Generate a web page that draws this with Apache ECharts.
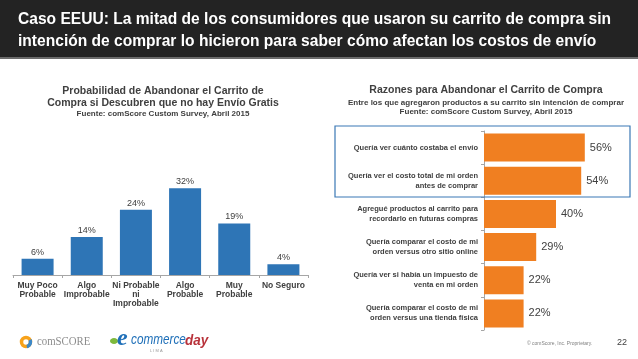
<!DOCTYPE html>
<html><head><meta charset="utf-8">
<script src="https://cdn.jsdelivr.net/npm/echarts@6/dist/echarts.min.js"></script>
<style>html,body{margin:0;padding:0;background:#fff}#c{width:638px;height:359px}</style>
</head><body><div id="c"></div>
<script>
const leftCategories = ['Muy Poco\nProbable','Algo\nImprobable','Ni Probable\nni\nImprobable','Algo\nProbable','Muy\nProbable','No Seguro'];
const leftValues = [6,14,24,32,19,4];
const rightCategories = ['Quería ver cuánto costaba el envío','Quería ver el costo total de mi orden\nantes de comprar','Agregué productos al carrito para\nrecordarlo en futuras compras','Quería comparar el costo de mi\norden versus otro sitio online','Quería ver si había un impuesto de\nventa en mi orden','Quería comparar el costo de mi\norden versus una tienda física'];
const rightValues = [56,54,40,29,22,22];

const F = 'Liberation Sans, Arial, sans-serif';
const titleLines = ['Caso EEUU: La mitad de los consumidores que usaron su carrito de compra sin','intención de comprar lo hicieron para saber cómo afectan los costos de envío'];
const titleFont = 'bold 17px "Liberation Sans", Arial, sans-serif';
const ctx = document.createElement('canvas').getContext('2d');
ctx.font = titleFont;
const titleScale = 593 / ctx.measureText(titleLines[0]).width;

const chart = echarts.init(document.getElementById('c'));
chart.setOption({
  animation:false,
  backgroundColor:'#fff',
  title:[
    {text:'Probabilidad de Abandonar el Carrito de\nCompra si Descubren que no hay Envío Gratis',left:158,top:80,textAlign:'center',
     textStyle:{fontFamily:F,fontSize:10.5,fontWeight:'bold',color:'#404040',lineHeight:12}},
    {text:'Fuente: comScore Custom Survey, Abril 2015',left:158,top:105,textAlign:'center',
     textStyle:{fontFamily:F,fontSize:8,fontWeight:'bold',color:'#404040'}},
    {text:'Razones para Abandonar el Carrito de Compra',left:481,top:80,textAlign:'center',
     textStyle:{fontFamily:F,fontSize:10.5,fontWeight:'bold',color:'#404040'}},
    {text:'Entre los que agregaron productos a su carrito sin intención de comprar\nFuente: comScore Custom Survey, Abril 2015',left:481,top:93,textAlign:'center',
     textStyle:{fontFamily:F,fontSize:8,fontWeight:'bold',color:'#404040',lineHeight:9.5}}
  ],
  grid:[
    {left:13,width:295,top:180,height:95},
    {left:484,width:144,top:131,height:199}
  ],
  xAxis:[
    {gridIndex:0,type:'category',data:leftCategories,
     axisLine:{lineStyle:{color:'#a6a6a6'}},axisTick:{show:true,length:3,lineStyle:{color:'#a6a6a6'}},
     axisLabel:{interval:0,fontFamily:F,fontSize:8.5,fontWeight:'bold',color:'#404040',lineHeight:9,margin:6}},
    {gridIndex:1,type:'value',min:0,max:80,show:false}
  ],
  yAxis:[
    {gridIndex:0,type:'value',min:0,max:35,show:false},
    {gridIndex:1,type:'category',data:rightCategories,inverse:true,
     axisLine:{lineStyle:{color:'#a6a6a6'}},axisTick:{show:true,length:3,lineStyle:{color:'#a6a6a6'}},
     axisLabel:{interval:0,fontFamily:F,fontSize:7.5,fontWeight:'bold',color:'#404040',lineHeight:10,margin:6,align:'right'}}
  ],
  series:[
    {type:'bar',xAxisIndex:0,yAxisIndex:0,data:leftValues,barWidth:32,
     itemStyle:{color:'#2E75B6'},
     label:{show:true,position:'top',distance:2,formatter:'{c}%',fontFamily:F,fontSize:9,color:'#404040'}},
    {type:'bar',xAxisIndex:1,yAxisIndex:1,data:rightValues,barWidth:28,
     itemStyle:{color:'#F07F21'},
     label:{show:true,position:'right',distance:5,formatter:'{c}%',fontFamily:F,fontSize:11,color:'#404040'}}
  ],
  graphic:[
    {type:'rect',shape:{x:0,y:0,width:638,height:57},style:{fill:'#232323'},z:-1},
    {type:'rect',shape:{x:0,y:57,width:638,height:2},style:{fill:'#6b6b6b'},z:-1},
    {type:'text',x:18,y:8,scaleX:titleScale,style:{text:titleLines.join('\n'),
      fill:'#fff',font:titleFont,lineHeight:22}},
    {type:'rect',shape:{x:335,y:126,width:295,height:71},style:{fill:'none',stroke:'#3A78B5',lineWidth:1.2},z:10},
    {type:'text',x:527,y:341,style:{text:'© comScore, Inc. Proprietary.',fill:'#808080',font:'5px '+F}},
    {type:'text',x:617,y:338,style:{text:'22',fill:'#404040',font:'9px '+F}},
    {type:'circle',shape:{cx:26,cy:342,r:4.5},style:{fill:'none',stroke:'#F7A21B',lineWidth:3.5}},
    {type:'arc',shape:{cx:26,cy:342,r:4.5,startAngle:-0.5,endAngle:1.4},style:{fill:'none',stroke:'#3B88C9',lineWidth:3.5}},
    {type:'text',x:37,y:336,scaleX:0.9,style:{text:'comSCORE',fill:'#8c8c8c',font:'12px "Liberation Serif", serif'}},
    {type:'ellipse',shape:{cx:114,cy:341,rx:4,ry:3},style:{fill:'#7DB93C'}},
    {type:'text',x:117,y:327,style:{text:'e',fill:'#1E6FB8',font:'italic bold 24px "Liberation Serif", serif'}},
    {type:'text',x:131,y:333,scaleX:0.84,style:{text:'commerce',fill:'#1E6FB8',font:'italic 14px "Liberation Sans", sans-serif'}},
    {type:'text',x:185,y:333,scaleX:0.9,style:{text:'day',fill:'#B8323A',font:'italic bold 15px "Liberation Sans", sans-serif'}},
    {type:'text',x:150,y:349,style:{text:'L I M A',fill:'#999',font:'4px '+F}}
  ]
});
</script></body></html>
